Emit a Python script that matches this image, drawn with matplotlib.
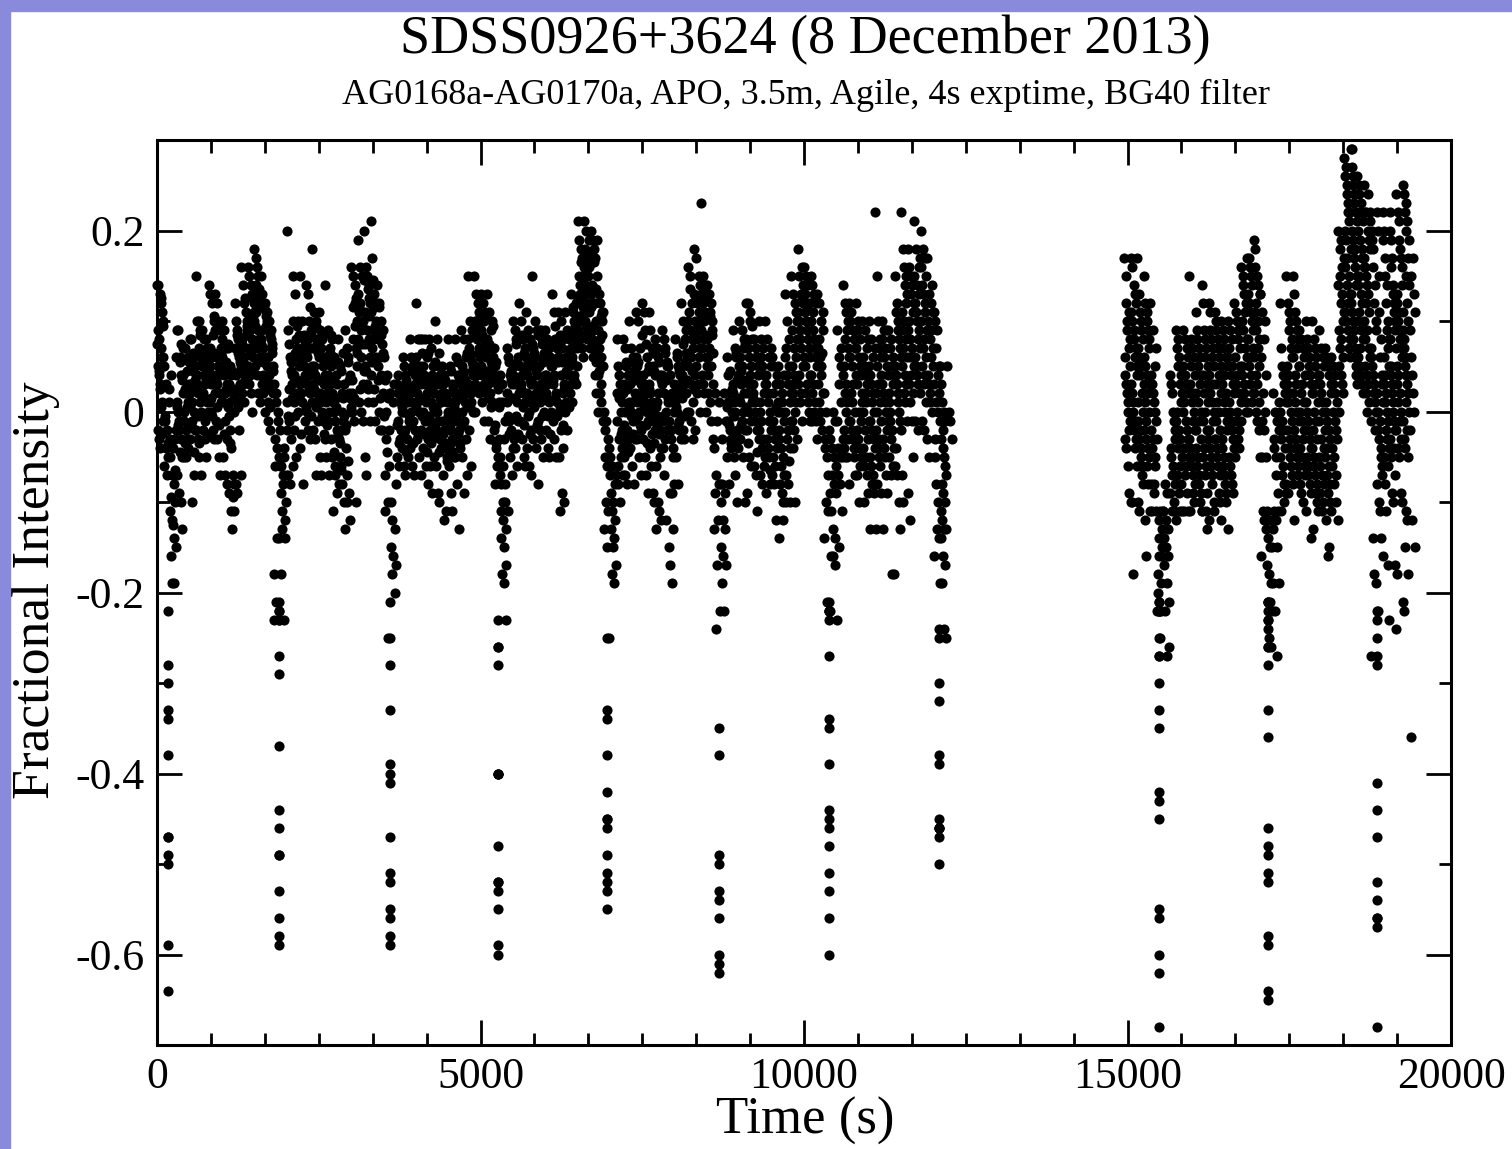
import numpy as np
import matplotlib
matplotlib.use("Agg")
import matplotlib.pyplot as plt
from matplotlib.patches import Rectangle
from matplotlib.ticker import FixedLocator, MultipleLocator
from math import gcd

# ---------------- text ----------------
TITLE = "SDSS0926+3624 (8 December 2013)"
SUBTITLE = "AG0168a-AG0170a, APO, 3.5m, Agile, 4s exptime, BG40 filter"
XLABEL = "Time (s)"
YLABEL = "Fractional Intensity"
x_ticks = [0, 5000, 10000, 15000, 20000]
x_tick_labels = ["0", "5000", "10000", "15000", "20000"]
y_ticks = [-0.6, -0.4, -0.2, 0.0, 0.2]
y_tick_labels = ["-0.6", "-0.4", "-0.2", "0", "0.2"]

# ---------------- data ----------------
# Fractional intensity in percent, grouped in consecutive 100 s blocks
BIN_S = 100
seg_a_start = 0
seg_a = [
    [14, 14, 13, 12, 11, 10, 9, 8, 7, 6, 6, 5, 4, 3, 1, -1, -2, -3, -4],
    [5, 3, 1, -1, -2, -3, -4, -5, -6, -7],
    [-5, -7, -8, -10, -11, -12, -14, -15, -16, -19, -19, 6, 4, -4, -3, -2],
    [9, 9, 6, 4, 2, 0, -1, -3, -5, -7, -9, -10, -13, 1, -2],
    [7, 7, 6, 4, 2, 1, -1, -2, -4, -5, -5, 3, 0, -3],
    [8, 8, 6, 6, 4, 3, 1, 0, -2, -3, -10, -7, 5, 2, -1],
    [15, 10, 10, 9, 6, 4, 2, 1, 0, -2, -3, -5, -7, 5, 3, 7],
    [9, 8, 8, 7, 6, 4, 3, 1, 0, -2, -3, -5, 5, 2, -1],
    [14, 13, 12, 10, 9, 7, 6, 4, 2, 1, 0, -2, -3, 5, 3],
    [13, 12, 10, 9, 7, 6, 4, 2, 1, -1, -3, -5, -7, 8, 3, 5],
    [10, 9, 7, 6, 4, 3, 1, -1, -3, -5, -7, -8, 5, 2],
    [7, 5, 4, 2, 0, -2, -4, -7, -8, -9, -11, -13, -11, 3, 1],
    [12, 10, 8, 6, 5, 4, 1, -2, -7, -8, -9, 1, 3, 7, 9],
    [16, 14, 12, 11, 9, 8, 6, 5, 4, 2, 1, 4, 10, 7, 3],
    [16, 15, 14, 13, 12, 10, 9, 8, 6, 5, 3, 2, 0, 11, 7, 4],
    [18, 17, 16, 15, 13, 12, 11, 9, 8, 6, 5, 4, 2, 1, 10, 14, 7],
    [15, 13, 12, 12, 10, 9, 7, 6, 5, 3, 2, 0, 11, 8, 4],
    [11, 10, 8, 7, 6, 4, 3, 2, -1, -2, 9, 5, 1],
    [3, 1, 0, -2, -3, -4, -5, -6, -14, -14, -18, -21, -22, -23],
    [-6, -7, -7, -8, -10, -11, -12, -13, -14, -18, -23, -6, -4],
    [20, 9, 6, 3, 1, -1, -3, -6, -7, -8, 4, -2],
    [15, 13, 10, 10, 8, 6, 4, 2, 0, -2, -5, 5, 1, 7],
    [15, 10, 8, 6, 6, 5, 3, 1, -1, -4, -8, 4, 2, 7],
    [14, 13, 10, 9, 7, 6, 4, 2, 1, 0, -2, -3, 5, 3, 8],
    [18, 11, 10, 8, 6, 5, 4, 2, -1, -2, -3, -7, 7, 3, 1],
    [11, 9, 8, 6, 4, 2, 0, -1, -3, -5, -7, 5, 3, 1, 7],
    [14, 9, 7, 6, 4, 3, 1, -1, -3, -5, -7, 5, 2, 0],
    [8, 6, 4, 2, 0, -2, -5, -7, -9, -11, -6, 3, 1, -1],
    [8, 5, 2, -1, -3, -5, -8, -10, -8, -6, 0, 3, -2],
    [9, 7, 6, 4, -2, -7, -9, -12, -13, -10, 2, 0, -4],
    [16, 15, 12, 5, 2, -1, -10, 10, 8, 14, 7, 0],
    [19, 16, 15, 13, 12, 10, 8, 6, 3, 1, 0, -1, 11, 9],
    [20, 16, 15, 14, 12, 11, 9, 8, 6, 5, 3, 1, -1, -5, -7],
    [21, 17, 13, 12, 11, 9, 8, 6, 4, 1, -1, 10, 7],
    [14, 12, 10, 9, 8, 6, 4, 2, 0, -2, -2, 5],
    [6, 4, 2, 0, -2, -3, -6, -7, -10, -11, -25],
    [2, 1, -8, -12, -13, -15, -16, -17, -18, -20],
    [3, 2, 1, 0, -1, -3, -4, -5, -6, -2, 1, 4],
    [6, 4, 3, 1, 0, -2, -3, -5, -6, -7, 2, -1, 5],
    [8, 6, 5, 4, 2, 1, -1, -2, -4, -6, -7, 3, 0],
    [12, 8, 8, 6, 4, 3, 1, 0, -2, -3, -5, -7, 2, 5],
    [8, 8, 6, 5, 3, 2, 0, -1, -3, -4, -6, -8, 4, 1],
    [8, 7, 5, 3, 1, 0, -2, -3, -5, -6, -9, 2, -1, 4],
    [10, 8, 5, 4, 2, 0, -1, -3, -4, -6, -9, -10, 1, -2, 3],
    [5, 4, 2, 1, -1, -2, -4, -5, -7, -12, -11, 0, 3],
    [8, 5, 3, 1, 0, -2, -3, -5, -6, -9, -11, 2, -1],
    [8, 6, 4, 2, 1, -1, -2, -4, -5, -8, -13, 3, 0],
    [9, 8, 6, 5, 3, 2, 0, -1, -3, -5, -9, -7, 4, 1],
    [15, 10, 9, 8, 6, 5, 3, 2, 0, -2, -6, 4, 7, 1],
    [15, 13, 11, 10, 8, 7, 5, 4, 2, 0, 9, 6, 3, 12],
    [13, 12, 11, 9, 8, 6, 5, 3, 2, 1, -1, 7, 4, 10],
    [13, 11, 10, 8, 7, 5, 4, 2, 1, -1, -3, 6, 3, 9],
    [7, 5, 3, 1, -2, -4, -5, -7, -8, -6, -3, 4],
    [4, 3, -1, -5, -6, -8, -8, -10, -10, -11, -12, -13, -14, -15, -17, -18, -19, -23],
    [7, 6, 4, 3, 1, -1, -2, -4, -11, -5, -7, 2],
    [10, 9, 8, 6, 4, 3, 1, -1, -3, -4, -6, 2, 5],
    [12, 10, 8, 7, 5, 4, 2, 1, -1, -3, -5, -6, 3],
    [11, 9, 8, 6, 5, 3, 2, 0, -2, -4, -6, -7, 4, 1],
    [15, 10, 9, 7, 6, 4, 3, 1, -1, -3, -4, -8, 5, 2],
    [9, 9, 8, 6, 5, 3, 2, 0, -2, -3, -5, 4, 1],
    [9, 8, 7, 6, 4, 3, 1, 0, -2, -4, -5, 5, 2],
    [13, 11, 8, 7, 5, 4, 2, 1, -1, -3, -5, 6, 3],
    [11, 10, 8, 6, 4, 2, 0, -2, -4, -5, -9, -10, -11, 7, 3],
    [11, 9, 8, 7, 6, 4, 2, 0, -2, 5, 3, 1],
    [13, 11, 8, 7, 6, 4, 3, 1, 10, 9, 5],
    [21, 19, 18, 17, 16, 15, 13, 12, 11, 10, 8, 7, 6, 9, 14],
    [21, 20, 19, 18, 17, 16, 14, 12, 11, 10, 8, 7, 13, 9],
    [20, 19, 18, 17, 15, 14, 12, 12, 10, 8, 6, 4, 2, 13, 9],
    [19, 13, 12, 11, 11, 9, 8, 6, 5, 4, 2, 1, -1, 0, 7],
    [0, -1, -4, -5, -6, -7, -10, -11, -13, -15, -25],
    [-5, -6, -8, -9, -10, -12, -13, -15, -17, -18, -19, -7],
    [8, 5, 3, 1, -1, -3, -5, -7, -8, -10, -2, 2],
    [8, 7, 5, 4, 2, 0, -2, -3, -5, -7, -8, 1, 3],
    [10, 7, 6, 4, 3, 1, -1, -3, -4, -6, -8, 2, 0],
    [11, 10, 7, 6, 4, 3, 1, 0, -2, -3, -5, -7, 5, 2],
    [12, 11, 9, 6, 5, 3, 2, 0, -1, -3, -5, -7, -9, 4, 1],
    [11, 9, 7, 5, 4, 2, 1, -1, -2, -4, -6, -9, -10, 3, 0],
    [8, 7, 6, 4, 3, 1, -1, -2, -4, -6, -10, -11, -12, -13, 2],
    [9, 8, 7, 5, 4, 2, 0, -2, -4, -7, -12, 1, -1],
    [5, 4, 2, 0, -1, -3, -5, -8, -9, -9, -13, -15, -17, -19, 3],
    [8, 6, 5, 3, 2, 0, -1, -3, -5, -8, 4, 1],
    [12, 10, 8, 6, 5, 3, 2, 0, -2, -3, 9, 4],
    [16, 15, 12, 10, 9, 7, 5, 3, 1, 0, -1, -3, 11, 6],
    [18, 17, 15, 13, 12, 11, 10, 8, 6, 4, 2, 0, -2, 9],
    [23, 15, 14, 13, 12, 11, 9, 8, 6, 4, 2, 0, 7, 10],
    [14, 13, 12, 9, 8, 7, 5, 3, 2, 1, -1, -3, 6],
    [-4, -7, -8, -9, -12, -13, -17, -22, -24, 1, 2, -1],
    [-8, -8, -9, -10, -12, -13, -15, -16, -17, -19, -22, -1, -3, 2],
    [6, 4, 2, 0, -1, -2, -3, -5, -8, -4, 3, 1],
    [9, 7, 6, 4, 2, 0, -2, -3, -5, -7, -10, 5, 1],
    [10, 9, 7, 6, 5, 2, 1, -1, -2, -3, -5, -10, 3, 0],
    [12, 12, 10, 8, 6, 5, 2, 0, -1, -2, -5, -6, -9, 3],
    [8, 8, 6, 5, 2, 0, -2, -3, -6, -7, -11, 3, 1],
    [10, 8, 5, 4, 0, -1, -3, -5, -7, -8, 2, -2, 6],
    [10, 8, 6, 5, 4, 2, 0, -2, -3, -5, -8, -9, 1, -1],
    [6, 5, 3, 1, -1, -3, -4, -7, -8, -12, 0, 2, -2],
    [5, 3, 1, -1, -2, -4, -5, -7, -8, -9, -12, -14, 0, 2],
    [13, 10, 8, 6, 4, 1, 0, -2, -4, -7, -8, -10, -10, 3, -1],
    [15, 13, 11, 9, 7, 6, 5, 4, 1, -1, -2, -3, -4, -10, 8, 2],
    [18, 15, 13, 12, 11, 9, 7, 5, 3, 1, -1, 14, 10, 8],
    [16, 15, 14, 12, 11, 10, 8, 6, 5, 3, 1, -1, 13, 9],
    [15, 14, 13, 12, 10, 9, 8, 6, 4, 3, 1, -1, -1, 11, 7],
    [13, 12, 10, 9, 7, 6, 4, 2, 1, 0, -2, -3, 8, 5],
    [2, 0, -2, -4, -5, -9, -10, -11, -14, -21, -22, -3, -7],
    [-3, -4, -5, -6, -7, -8, -9, -11, -13, -14, -16, -16, -17, -22, 0, -1],
    [9, 6, 5, -3, -4, -5, -5, -7, -8, -11, -23, -15, 1, -1],
    [14, 12, 11, 10, 6, 5, 3, 1, -1, -4, -5, -5, -8, -2, 8],
    [12, 11, 9, 7, 6, 5, 3, 0, -1, -2, -4, -7, 10, 1],
    [12, 9, 8, 7, 6, 4, 3, 0, -1, -2, -4, -5, -7, -10, 1],
    [10, 9, 7, 6, 4, 3, 0, -2, -3, -4, -5, -9, -10, 1],
    [10, 8, 6, 5, 3, 0, -1, -2, -3, -5, -8, -9, -13, 1],
    [22, 15, 10, 8, 6, 5, 3, 1, -1, -2, -4, -5, -9, -13, -8],
    [10, 9, 9, 8, 6, 5, 3, 1, -2, -3, -5, -9, -13],
    [9, 7, 5, 3, 1, -1, -2, -4, -5, -7, -18, -18, 2],
    [15, 11, 10, 8, 6, 4, 2, 0, -2, -4, -7, -10, -13, -6],
    [22, 18, 16, 15, 13, 11, 10, 8, 6, 5, 2, 1, -1, -7, -10],
    [18, 16, 15, 14, 12, 10, 8, 7, 5, 3, 1, -1, -5, -9, -12],
    [21, 18, 16, 15, 14, 13, 12, 10, 9, 6, 4, 2, -1, -2],
    [20, 18, 17, 16, 13, 12, 10, 8, 6, 5, 3, 1, -1, -2],
    [17, 13, 12, 11, 10, 8, 6, 5, 3, 1, 0, -3, -5],
    [11, 10, 9, 5, 3, 1, 0, -1, -3, -13, -14, -16],
    [5, 1, 0, -1, -3, -4, -5, -7, -8, -9, -10, -11, -12, -13, -13, -14, -16, -17,
     -19, -19, -24, -25],
    [5, 0, -1, -3],
]
# further samples read inside the dense core of each block (percent)
seg_a_fill = [
    [12.5, 9.5, 7.5, 4.5, 2.5, 0.5, -2.5], [2.5, -0.5, -3.5], [-9.5, -12.5, -6.5],
    [5.5, 3.5, 0.5, -1.5, -4.5, 7.5], [5.5, 2.5, 0.5, -1.5, -3.5, 4.5],
    [6.5, 3.5, 0.5, -1.5, 4.5, -4.5], [8.5, 5.5, 2.5, -0.5, -3.5, 6.5],
    [6.5, 4.5, 1.5, -0.5, 3.5, -2.5], [8.5, 6.5, 3.5, 1.5, -0.5, 10.5],
    [9.5, 6.5, 3.5, 0.5, -1.5, 4.5], [7.5, 4.5, 2.5, 0.5, -2.5, 5.5],
    [4.5, 1.5, -0.5, -3.5, 2.5, -9.5], [6.5, 4.5, 2.5, 8.5, 0.5, 5.5],
    [12.5, 9.5, 7.5, 5.5, 3.5, 8.5], [12.5, 10.5, 8.5, 6.5, 4.5, 9.5],
    [13.5, 11.5, 9.5, 7.5, 5.5, 12.5], [11.5, 9.5, 7.5, 5.5, 3.5, 10.5],
    [8.5, 6.5, 4.5, 2.5, 0.5, 7.5], [2, -1], [-9, -5],
    [7.5, 4.5, 1.5, -0.5, 2.5, 5.5], [8.5, 6.5, 3.5, 1.5, -0.5, 9.5],
    [7.5, 5.5, 3.5, 0.5, -2.5, 8.5], [11.5, 8.5, 6.5, 4.5, 2.5, -0.5],
    [9.5, 6.5, 4.5, 2.5, 0.5, 7.5], [8.5, 5.5, 3.5, 1.5, -0.5, -2.5],
    [8.5, 5.5, 3.5, 1.5, -1.5, 6.5], [5.5, 3.5, 0.5, -2.5, -4.5, 1.5],
    [4.5, 1.5, -0.5, -3.5, -6.5, 6.5], [5.5, 3.5, 0.5, -1.5, -5.5, 1.5],
    [11.5, 9.5, 6.5, 3.5, 1.5, 12.5], [14.5, 11.5, 7.5, 4.5, 2.5, 9.5],
    [13.5, 10.5, 7.5, 4.5, 2.5, 12.5], [14.5, 11.5, 8.5, 5.5, 2.5, 9.5],
    [11.5, 8.5, 6.5, 3.5, 1.5, 7.5], [3.5, 1.5, -0.5, -4.5], [-10, 3],
    [2.5, 0.5, -1.5, -3.5, 1.5], [3.5, 1.5, -0.5, -2.5, -4.5, 2.5],
    [4.5, 2.5, 0.5, -1.5, -3.5, 5.5], [6.5, 3.5, 1.5, -0.5, -2.5, 4.5],
    [6.5, 3.5, 1.5, -0.5, -2.5, -4.5], [5.5, 2.5, 0.5, -1.5, -3.5, 3.5],
    [6.5, 3.5, 0.5, -2.5, -4.5, 1.5], [3.5, 1.5, -0.5, -2.5, -3.5, -5.5],
    [4.5, 2.5, 0.5, -1.5, -3.5, -4.5], [5.5, 3.5, 1.5, -0.5, -2.5, -3.5],
    [6.5, 4.5, 2.5, 0.5, -1.5, 3.5], [8.5, 6.5, 4.5, 2.5, 0.5, 5.5],
    [10.5, 8.5, 6.5, 4.5, 2.5, 9.5], [10.5, 8.5, 6.5, 4.5, 2.5, 7.5],
    [9.5, 7.5, 5.5, 3.5, 1.5, 0.5], [5.5, 2.5, 0.5, -1.5, -3.5, 3.5], [1, -3],
    [5.5, 3.5, 1.5, -0.5, -2.5, 4.5], [7.5, 5.5, 3.5, 1.5, -0.5, -2.5],
    [8.5, 6.5, 4.5, 2.5, 0.5, -1.5], [7.5, 5.5, 3.5, 1.5, -0.5, -2.5],
    [8.5, 6.5, 4.5, 2.5, 0.5, -1.5], [7.5, 5.5, 3.5, 1.5, -0.5, 6.5],
    [7.5, 5.5, 3.5, 1.5, -0.5, -2.5], [9.5, 7.5, 5.5, 3.5, 1.5, -0.5],
    [8.5, 5.5, 2.5, 0.5, -1.5], [8.5, 6.5, 4.5, 2.5, 0.5],
    [11.5, 9.5, 7.5, 5.5, 3.5, 12], [16.5, 14.5, 12.5, 10.5, 8.5, 11.5],
    [17.5, 15.5, 13.5, 11.5, 9.5, 15], [16.5, 13.5, 11.5, 9.5, 7.5, 5.5],
    [10.5, 8.5, 6.5, 4.5, 3, 10], [-2, -3], [-11, -14],
    [4, 0, -4, -6, 1.5, -2.5], [5.5, 2.5, 0.5, -1.5, -3.5, -4.5],
    [5.5, 3.5, 1.5, -0.5, -2.5, 4.5], [8.5, 5.5, 3.5, 1.5, -0.5, -1.5],
    [7.5, 4.5, 2.5, 0.5, -1.5, -3.5], [6.5, 4.5, 2.5, 0.5, -2.5, -3.5],
    [5.5, 3.5, 0.5, -0.5, -2.5, -5], [6.5, 3.5, 1.5, -0.5, -3, 5.5], [1, -2, -4],
    [6.5, 4.5, 2.5, 0.5, -1.5, -2], [7.5, 5.5, 3.5, 1.5, -0.5, 6.5],
    [8.5, 6.5, 4.5, 2.5, 13.5, 8], [14, 12.5, 9.5, 7, 5, 3],
    [12.5, 10.5, 8.5, 5, 3, 13.5], [10.5, 8.5, 6.5, 4, 11, 10], [], [],
    [4.5, 2.5, 0.5, -1.5, -3.5], [6.5, 3.5, 1.5, -0.5, -2.5, -4],
    [7.5, 4.5, 3.5, 0.5, -1.5, 8], [9.5, 7, 4, 1, -3.5, 11], [7, 4, 1.5, -1, -4.5],
    [7, 3, 1, -4, -6], [7, 3, -4, -6.5], [4, -5, -6, 0.5], [4, -3, -6, -10],
    [7, 5, 2, -3, -5.5], [12, 10, 3, 0], [16, 6, 4, 2, 12.5], [7, 4, 2, 11.5, 0],
    [5, 2, 0, 12.5], [11, 3, -1, 6.5], [], [], [3, 7],
    [9, 7, 4, 2, 0, -3], [8, 4, 2, -3, -5], [10, 5, 2, -3, -6],
    [8, 5, 2, -1, -6, -7], [7, 4, 2, -4, -6, -7], [7, 4, 2, 0, -3, -6],
    [7, 4, 2, 0, -1, -4, -7], [8, 6, 4, 0, -3, -6], [12, 9, 7, 5, 3, 1, -1],
    [14, 12, 9, 7, 4, 3], [13, 11, 9, 6, 4, 2], [17, 11, 8, 7, 5, 3],
    [15, 14, 11, 9, 7, 4], [9, 7, 4, 2, 14], [7, 4, 2, -5, -8, -10],
    [3, -2, -6], [],
]

seg_b_start = 14950
seg_b = [
    [17, 15, 9, 7, 5, 4, 2, 0, -1, -3, -4, -6, -9, -10, 12, 10],
    [17, 16, 14, 13, 12, 11, 10, 8, 6, 5, 3, 1, -2, -4, -6, -10, -18],
    [17, 13, 11, 10, 8, 7, 6, 4, 2, 0, -1, -3, -4, -7, -8, -10, -11],
    [15, 12, 11, 9, 8, 6, 5, 4, 2, 0, -2, -3, -6, -8, -11, -12, -16],
    [12, 9, 5, 4, 2, 0, -2, -3, -6, -8, -9, -11, -11, -8],
    [-3, -11, -11, -12, -13, -14, -15, -16, -16, -18, -19, -20, -22, -22, -25],
    [-11, -12, -13, -14, -15, -16, -17, -19, -21, -22, -27, -26, -8, -9],
    [4, 2, -1, -3, -5, -6, -8, -9, -11, -11, -12],
    [9, 8, 6, 4, 2, 0, -2, -3, -5, -7, -9, -11, -11],
    [9, 8, 7, 5, 4, 2, 0, -1, -3, -4, -6, -11, -11, 3],
    [15, 8, 7, 6, 4, 3, 1, -1, -2, -4, -5, -7, -8, -11],
    [11, 9, 7, 6, 4, 2, 1, -1, -3, -4, -6, -7, -10, -11],
    [14, 12, 8, 7, 5, 4, 2, 0, -2, -3, -5, -7, -11, -13, -11],
    [12, 11, 8, 7, 5, 4, 2, 1, -1, -3, -4, -6, -7, -11, -12],
    [11, 10, 8, 6, 5, 3, 1, 0, -2, -3, -5, -6, -7, -12],
    [10, 9, 8, 6, 5, 3, 1, 0, -2, -4, -6, -8, -9, -13],
    [10, 9, 8, 6, 4, 3, 1, -1, -3, -5, -7, -9],
    [12, 11, 9, 7, 6, 4, 2, 1, -1, -3, -4, -5],
    [16, 14, 13, 12, 10, 9, 7, 6, 4, 3, 1, -1],
    [17, 17, 15, 14, 13, 12, 11, 9, 8, 6, 4, 2, 0],
    [19, 18, 15, 14, 13, 11, 9, 7, 5, 2, 0, -1, -2, -5],
    [13, 11, 8, 4, -1, -2, -5, -5, -12, -13, -16, -11],
    [-11, -12, -12, -13, -14, -15, -15, -17, -18, -19, -19, -21, -21, -22, -23, -25, -26],
    [2, 0, -1, -2, -4, -7, -11, -11, -12, -15, -19, -22, -27],
    [12, 7, 4, 2, 0, -1, -2, -4, -5, -7, -8, -9, -11],
    [15, 12, 11, 10, 8, 5, 4, 2, 0, -1, -2, -4, -5, -7, -8, -9],
    [15, 13, 11, 9, 8, 6, 4, 3, 0, -1, -2, -4, -5, -7, -8, -12],
    [9, 8, 6, 5, 3, 1, 0, -1, -2, -4, -5, -7, -8],
    [10, 8, 6, 4, 2, 0, -1, -3, -4, -5, -7, -8, -14, -11],
    [10, 8, 7, 6, 4, 2, 0, -1, -3, -4, -5, -7, -8, -11, -13],
    [9, 7, 6, 4, 2, 0, -1, -3, -4, -5, -7, -8, -9, -11],
    [7, 6, 5, 4, 2, 0, -1, -2, -3, -5, -7, -9, -10, -11, -12, -16, -15],
    [6, 5, 4, 1, 0, -1, -2, -4, -5, -7, -12],
    [20, 18, 16, 14, 12, 10, 9, 8, 6, 5, 4, 2, 0],
    [28, 27, 25, 22, 22, 20, 19, 17, 15, 13, 11, 10, 9, 7, 6],
    [29, 29, 26, 24, 22, 21, 20, 19, 17, 16, 14, 12, 11, 8, 6, 4, 3],
    [26, 24, 23, 21, 20, 19, 17, 16, 15, 13, 12, 10, 7, 4, 2],
    [25, 22, 22, 20, 19, 18, 16, 12, 9, 7, 6, 5, 2, 0],
    [22, 19, 18, 12, 9, 6, 5, 3, 1, 0, -1, -14, -18, -19, -27],
    [22, 20, 11, 8, 4, 2, 0, -1, -5, -6, -8, -10, -11, -14, -16, -22],
    [22, 20, 17, 14, 10, 8, 6, 4, 2, 0, -1, -4, -5, -8, -11, -17, -23],
    [22, 19, 17, 14, 12, 10, 8, 5, 3, 0, -1, -2, -3, -5, -9, -10, -17, -24],
    [24, 22, 19, 17, 16, 12, 11, 9, 7, 5, 4, 2, 0, -2, -4, -5, -9, -10, -18],
    [25, 24, 22, 20, 15, 12, 10, 9, 8, 6, 4, 3, 2, 0, -1, -3, -4, -11, -12, -18,
     -21, -22, -15],
    [19, 15, 13, 9, 4, 0, -2, -12, -15, -36],
]
seg_b_fill = [
    [11, 8, 6, 3, 1, -2], [9, 7, 4, 2, 0, -1, -3], [9, 5, 3, 1, -2, -5, -6],
    [10, 7, 3, 1, -1, -4, -5], [7, 3, 1, -1, -4, -5], [], [],
    [3, 0, -2, -4, -7, -10], [7, 5, 3, 1, -1, -4, -6, -8], [6, 1, -2, -5, -7, -9],
    [5, 2, 0, -3, -6, -9, -10], [8, 5, 3, 0, -2, -5, -8, -9],
    [9, 6, 3, 1, -1, -4, -6, -9], [9, 6, 3, 0, -2, -5, -8, -10],
    [9, 7, 4, 2, -1, -4, -9, -10], [7, 4, 2, -1, -3, -5, -7, -10],
    [7, 5, 2, 0, -2, -4, -6, -8], [10, 8, 5, 3, 0, -2], [15, 11, 8, 5, 2, 0],
    [16, 10, 7, 5, 3, 1], [16, 12, 10, 8, 6, 4, 3, 1], [10, 6, 2, 0], [],
    [1, -3, -5, -9], [5, 3, 1, -3, -6, -10], [9, 7, 6, 3, 1, -3, -6],
    [10, 7, 5, 2, 1, -3, -6], [7, 4, 2, -3, -6, -9, -10], [7, 5, 3, 1, -2, -6, -9],
    [5, 3, 1, -2, -6, -9, -10], [5, 3, 1, -2, -6, -10], [3, 1, -4, -6, -8],
    [3, 2, -3, -6, -8, -10], [19, 17, 15, 13, 11, 7, 3],
    [26, 24, 23, 21, 18, 16, 14, 12, 8], [27, 25, 23, 18, 15, 13, 10, 9, 7, 5],
    [25, 22, 18, 14, 11, 9, 8, 6, 5, 3], [24, 21, 17, 15, 14, 13, 11, 10, 8, 4, 3, 1],
    [20, 16, 14, 10, 7, 4, 2, -2], [15, 6, 3, 1, -2, -3, -4, -7],
    [19, 15, 12, 9, 7, 5, 3, 1, -2, -3, -6], [20, 16, 13, 11, 9, 7, 4, 2, 1, -4, -7],
    [21, 18, 14, 13, 10, 8, 6, 3, 1, -1, -3], [23, 21, 17, 14, 11, 7, 5, 1, -2, -5],
    [17, 11, 6, 2],
]

# eclipse-like dips: time of the dip (s) and the deep points (percent)
dip_times = [170, 1880, 3600, 5270, 6960, 8680, 10380, 12080, 15480, 17165, 18852]
dip_values = [
    [-22, -28, -30, -33, -34, -38, -47, -47, -49, -50, -59, -64],
    [-21, -22, -23, -23, -27, -29, -37, -44, -46, -49, -49, -53, -56, -58, -59],
    [-21, -25, -28, -33, -39, -40, -41, -47, -51, -52, -55, -56, -58, -59],
    [-23, -26, -26, -28, -40, -40, -40, -48, -52, -52, -53, -55, -59, -60],
    [-25, -33, -34, -38, -42, -45, -45, -46, -49, -51, -52, -53, -55],
    [-35, -38, -49, -50, -53, -54, -56, -60, -61, -62],
    [-21, -22, -22, -23, -27, -34, -35, -39, -44, -45, -46, -48, -51, -53, -56, -60],
    [-24, -25, -30, -32, -38, -39, -45, -46, -46, -46, -47, -50],
    [-21, -21, -22, -22, -22, -25, -27, -27, -30, -33, -35, -42, -43, -45, -55, -56,
     -60, -62, -68],
    [-21, -21, -22, -23, -24, -26, -26, -28, -33, -36, -46, -48, -49, -51, -52, -58,
     -59, -64, -65],
    [-22, -23, -25, -27, -28, -41, -44, -47, -52, -54, -56, -56, -57, -68],
]


def expand(start, blocks, fills):
    """Spread each block's samples over its 100 s span (exposure cadence)."""
    ts, ys = [], []
    for i, (vals, extra) in enumerate(zip(blocks, fills)):
        vals = list(vals) + list(extra)
        n = len(vals)
        step = next(s for s in (5, 7, 3, 11, 13, 1) if gcd(s, n) == 1)
        for k, v in enumerate(vals):
            slot = (k * step) % n
            ts.append(start + i * BIN_S + (slot + 0.5) * BIN_S / n)
            ys.append(v / 100.0)
    return ts, ys


ta, ya = expand(seg_a_start, seg_a, seg_a_fill)
tb, yb = expand(seg_b_start, seg_b, seg_b_fill)
td, yd = [], []
for t0, vals in zip(dip_times, dip_values):
    for v in vals:
        td.append(t0)
        yd.append(v / 100.0)

t_all = np.array(ta + tb + td)
y_all = np.array(ya + yb + yd)

# ---------------- figure ----------------
plt.rcParams["font.family"] = ["Liberation Serif", "DejaVu Serif"]
plt.rcParams["axes.unicode_minus"] = False

W, H = 1512, 1149
fig = plt.figure(figsize=(W / 100, H / 100), dpi=100, facecolor="white")
ax = fig.add_axes([157 / W, 1 - 1045 / H, (1451 - 157) / W, (1045 - 140) / H])

ax.plot(t_all, y_all, "o", color="black", markersize=7.3, markeredgewidth=0,
        clip_on=False)

ax.set_xlim(0, 20000)
ax.set_ylim(-0.7, 0.3)
ax.xaxis.set_major_locator(FixedLocator(x_ticks))
ax.set_xticklabels(x_tick_labels)
ax.xaxis.set_minor_locator(MultipleLocator(5000 / 6))
ax.yaxis.set_major_locator(FixedLocator(y_ticks))
ax.set_yticklabels(y_tick_labels)
ax.yaxis.set_minor_locator(MultipleLocator(0.1))

ax.tick_params(which="both", direction="in", top=True, right=True,
               width=2.0, labelsize=31.5, pad=9)
ax.tick_params(which="major", length=18)
ax.tick_params(which="minor", length=9)
for sp in ax.spines.values():
    sp.set_linewidth(2.2)

fig.text(805 / W, 1 - 53 / H, TITLE, ha="center", va="baseline", fontsize=39)
fig.text(806 / W, 1 - 104 / H, SUBTITLE, ha="center", va="baseline", fontsize=26)
fig.text(805 / W, 1 - 1134 / H, XLABEL, ha="center", va="baseline", fontsize=38)
fig.text(36 / W, 1 - 590 / H, YLABEL, ha="center", va="center",
         rotation=90, fontsize=38.5)

# purple window border (left and top strips)
fig.patches.append(Rectangle((0, 0), 10 / W, 1, transform=fig.transFigure,
                             color="#8a8adc", zorder=10))
fig.patches.append(Rectangle((0, 1 - 11 / H), 1, 11 / H, transform=fig.transFigure,
                             color="#8a8adc", zorder=10))

fig.savefig("out.png", dpi=100, facecolor="white")
